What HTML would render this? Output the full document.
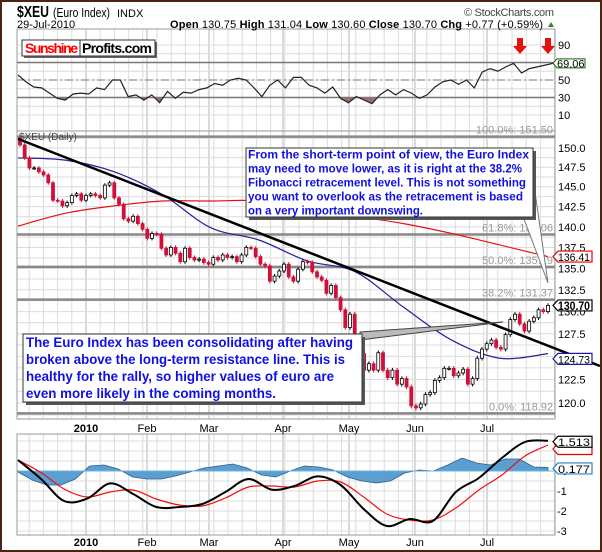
<!DOCTYPE html>
<html><head><meta charset="utf-8"><style>
html,body{margin:0;padding:0;background:#fff}
svg{display:block;font-family:"Liberation Sans",sans-serif}
</style></head><body>
<svg id="chart" width="602" height="552" viewBox="0 0 602 552" xmlns="http://www.w3.org/2000/svg">
<rect x="0" y="0" width="602" height="552" fill="#fff" stroke="#4a2410" stroke-width="4"/>
<g id="grid"></g>
<g id="rsi"></g>
<g id="main"></g>
<g id="macd"></g>
<g>
<text x="17" y="17" font-size="16" font-weight="bold" textLength="32" lengthAdjust="spacingAndGlyphs">$XEU</text>
<text x="53" y="17" font-size="12.5" textLength="57" lengthAdjust="spacingAndGlyphs">(Euro Index)</text>
<text x="117" y="17" font-size="11">INDX</text>
<text x="17" y="28" font-size="11">29-Jul-2010</text>
<text x="464" y="16" font-size="11" fill="#444" textLength="90">© StockCharts.com</text>
<text x="170" y="28" font-size="11" textLength="373"><tspan font-weight="bold">Open</tspan> 130.75  <tspan font-weight="bold">High</tspan> 131.04  <tspan font-weight="bold">Low</tspan> 130.60  <tspan font-weight="bold">Close</tspan> 130.70  <tspan font-weight="bold">Chg</tspan> +0.77 (+0.59%)</text>
<polygon points="548,27 554,27 551,22" fill="#2a8a2a"/>
</g>
<g>
<rect x="24" y="42" width="133" height="16" fill="#666"/>
<rect x="22" y="40" width="133" height="16" fill="#fff" stroke="#333"/>
<line x1="80" y1="40" x2="80" y2="56" stroke="#333"/>
<text x="25" y="53" font-size="14" font-weight="bold" fill="#f00" textLength="53">Sunshine</text>
<text x="82" y="53" font-size="14" font-weight="bold" fill="#000" textLength="70">Profits.com</text>
</g>
<g>
<polygon points="517,38 523,38 523,46 527,46 520,54 513,46 517,46" fill="#e8100a"/>
<polygon points="545,38 551,38 551,46 555,46 548,54 541,46 545,46" fill="#e8100a"/>
</g>
</svg>
<script>
// ---------- DATA ----------
const closes=[150.4,148.7,147.4,147.4,146.9,146.5,145.5,143.3,143.2,142.6,143.0,143.9,144.1,143.3,143.9,144.1,143.9,143.6,145.2,145.5,143.6,142.8,141.0,140.7,141.3,140.4,139.7,138.6,139.2,139.1,137.4,136.6,137.5,136.8,135.8,137.4,136.3,136.0,136.1,135.7,135.5,136.3,136.0,136.6,136.3,136.4,135.8,136.6,137.5,137.4,136.4,135.5,135.3,133.5,134.1,134.7,135.5,134.0,133.5,134.9,135.8,135.7,134.6,134.0,133.6,132.1,133.0,131.6,130.2,128.2,129.7,127.0,125.3,123.5,124.2,123.5,125.4,123.5,122.7,123.5,122.0,122.6,121.7,119.7,119.5,119.9,120.9,121.1,122.4,122.7,123.7,123.7,122.9,123.2,123.6,122.0,122.6,124.8,125.8,126.4,126.8,126.0,125.8,127.4,129.1,129.7,128.6,127.8,128.9,129.3,130.2,130.0,130.7];
const firstOpen=151.3;
const ma50=[148.7,148.4,146.9,144.0,139.9,138.4,135.9,134.6,130.5,126.8,124.8,125.3];
const ma200=[140.1,141.7,142.6,143.2,143.2,143.2,142.0,141.3,140.4,139.2,137.8,136.4];
const priceTicks=[150.0,147.5,145.0,142.5,140.0,137.5,135.0,132.5,130.0,127.5,122.5,120.0];
const fibLevels=[151.50,139.06,135.19,131.37,118.92];
const fibLabels=["100.0%: 151.50","61.8%: 139.06","50.0%: 135.19","38.2%: 131.37","0.0%: 118.92"];
const rsiVals=[55.7,48,42,41,35,29,27,34,35,34,41,39,50,50,31,33,27,33,24,37,29,36,35,39,41,46,44,50,52,50,41,31,44,50,41,53,53,44,41,35,42,29,24,31,27,23,33,39,33,39,35,29,33,42,48,50,45,50,41,59,63,60,65,69,58,63,65,67,69.06];
const rsiTicks=[90,70,50,30,10];
const macdLine=[0.55,-0.4,-1.5,-1.38,-0.62,-1.15,-1.8,-1.8,-1.65,-1.05,-0.4,-0.93,-0.75,-0.27,-0.7,-1.9,-2.75,-2.4,-2.5,-1.05,-0.35,0.65,1.45,1.513];
const signalLine=[0.55,-0.08,-0.9,-1.3,-1.05,-0.95,-1.4,-1.7,-1.75,-1.35,-0.8,-0.75,-0.8,-0.5,-0.55,-1.3,-2.15,-2.45,-2.45,-1.85,-0.95,-0.2,0.75,1.3];
const histVals=[-0.05,-0.45,-0.7,-0.7,-0.4,0.25,0.3,0.1,-0.3,-0.4,-0.4,-0.25,-0.05,0.15,0.25,0.35,0.15,-0.2,-0.3,0,0.25,0.2,0.05,-0.3,-0.5,-0.6,-0.5,-0.1,0.05,0,0.3,0.65,0.4,0.3,0.6,0.6,0.2,0.177];
const macdTicks=[1,0,-1,-2,-3];
const months=["2010","Feb","Mar","Apr","May","Jun","Jul"];
const monthIdx=[0,1,2,3,4,5,6];

// ---------- SCALES ----------
const NS="http://www.w3.org/2000/svg";
const X0=17,X1=555;
const yP=p=>148+1143*(Math.log(150)-Math.log(p));
const yR=v=>80-(v-50)*0.875;
const yM=v=>471-20*v;
const xSeries=(i,n)=>18+i*(548-18)/(n-1);
const xCandle=i=>20+i*(548-20)/(closes.length-1);
const monthX=[86,147,209,283,349,415,487];
const xMonth=k=>monthX[k];
function mk(tag,attrs,parent){const e=document.createElementNS(NS,tag);for(const k in attrs)e.setAttribute(k,attrs[k]);parent.appendChild(e);return e;}
function smooth(pts){let d=`M${pts[0][0]},${pts[0][1]}`;for(let i=0;i<pts.length-1;i++){const p0=pts[Math.max(0,i-1)],p1=pts[i],p2=pts[i+1],p3=pts[Math.min(pts.length-1,i+2)];
d+=` C${p1[0]+(p2[0]-p0[0])/6},${p1[1]+(p2[1]-p0[1])/6} ${p2[0]-(p3[0]-p1[0])/6},${p2[1]-(p3[1]-p1[1])/6} ${p2[0]},${p2[1]}`;}return d;}
const grid=document.getElementById('grid'),rsi=document.getElementById('rsi'),main=document.getElementById('main'),macd=document.getElementById('macd');
const panels=[[29,131],[131,419],[434,535]];

for(const [t,b] of panels){
  for(let x=86-14.2*4;x<X1;x+=14.2){if(x>X0)mk('line',{x1:x,y1:t,x2:x,y2:b,stroke:'#dcdcdc','stroke-width':1},grid);}
}
panels.forEach(([t,b])=>monthIdx.forEach(k=>mk('line',{x1:xMonth(k),y1:t,x2:xMonth(k),y2:b,stroke:'#b4b4b4','stroke-width':1},grid)));
for(let v=10;v<=90;v+=10)mk('line',{x1:X0,y1:yR(v),x2:X1,y2:yR(v),stroke:'#dcdcdc'},grid);
for(let p=151.25;p>118;p-=1.25)mk('line',{x1:X0,y1:yP(p),x2:X1,y2:yP(p),stroke:'#dcdcdc'},grid);
for(let v=1.5;v>=-3;v-=0.5)mk('line',{x1:X0,y1:yM(v),x2:X1,y2:yM(v),stroke:'#dcdcdc'},grid);
panels.forEach(([t,b])=>mk('rect',{x:X0,y:t,width:X1-X0,height:b-t,fill:'none',stroke:'#999'},grid));

// ---------- RSI ----------
mk('line',{x1:X0,y1:yR(70),x2:X1,y2:yR(70),stroke:'#777','stroke-width':1.5},rsi);
mk('line',{x1:X0,y1:yR(30),x2:X1,y2:yR(30),stroke:'#777','stroke-width':1.5},rsi);
mk('line',{x1:X0,y1:yR(50),x2:X1,y2:yR(50),stroke:'#777','stroke-width':1,'stroke-dasharray':'8,3,2,3'},rsi);
const rN=rsiVals.length;
const rPts=rsiVals.map((v,i)=>[18+i*(553-18)/(rN-1),yR(v)]);
const cp=mk('clipPath',{id:'below30'},rsi);mk('rect',{x:0,y:yR(30),width:602,height:60},cp);
const shade=mk('polygon',{points:`${rPts[0][0]},${yR(30)} `+rPts.map(p=>p.join(',')).join(' ')+` ${rPts[rN-1][0]},${yR(30)}`,fill:'#9c6e6e','clip-path':'url(#below30)'},rsi);


const rl=mk('polyline',{points:rPts.map(p=>p.join(',')).join(' '),fill:'none',stroke:'#222','stroke-width':1.2},rsi);


rsiTicks.forEach(v=>{if(v===70)return;const t=mk('text',{x:558,y:yR(v)+4,'font-size':11},rsi);t.textContent=v;

});
const rTag=mk('polygon',{points:`553,${yR(69.06)} 557,${yR(69.06)-4.5} 585,${yR(69.06)-4.5} 585,${yR(69.06)+4.5} 557,${yR(69.06)+4.5}`,fill:'#fff',stroke:'#006600'},rsi);


const rTt=mk('text',{x:557,y:yR(69.06)+4,'font-size':11},rsi);rTt.textContent='69.06';

// ---------- MAIN ----------
fibLevels.forEach((p,i)=>{
  const l=mk('line',{x1:X0,y1:yP(p),x2:X1,y2:yP(p),stroke:'#888','stroke-width':2.5},main);
  
  
  const t=mk('text',{x:553,y:yP(p)-3,'font-size':11,fill:'#999','text-anchor':'end'},main);t.textContent=fibLabels[i];
  
  
});
priceTicks.forEach(p=>{const t=mk('text',{x:558,y:yP(p)+4,'font-size':11},main);t.textContent=p.toFixed(1);

});
const tl0=mk('text',{x:19,y:140,'font-size':10,fill:'#444'},main);tl0.textContent='$XEU (Daily)';
const maLine=(arr,col,name)=>{const e=mk('path',{d:smooth(arr.map((v,i)=>[xSeries(i,arr.length),yP(v)])),fill:'none',stroke:col,'stroke-width':1.2},main);

};
maLine(ma200,'#e81010','ma200-line');
maLine(ma50,'#22229a','ma50-line');
closes.forEach((c,i)=>{
  const o=i===0?firstOpen:closes[i-1];
  const x=xCandle(i);const hi=Math.max(o,c)+0.25,lo=Math.min(o,c)-0.25;
  const down=c<o;const col=down?'#d0103a':'#000';
  const w=mk('line',{x1:x,y1:yP(hi),x2:x,y2:yP(lo),stroke:col},main);
  
  
  const top=yP(Math.max(o,c)),h=Math.max(1,yP(Math.min(o,c))-top);
  const b=mk('rect',{x:x-1.5,y:top,width:3,height:h,fill:down?col:'#fff',stroke:col,'stroke-width':0.8},main);
  
  
});
const tr=mk('line',{x1:18,y1:yP(151.2),x2:600,y2:366,stroke:'#000','stroke-width':2.5},main);


const c1=mk('g',{},main);


mk('polygon',{points:'529,150 548,283 524,219',fill:'#fff',stroke:'#777'},c1);
mk('rect',{x:249,y:151,width:287,height:69,fill:'#555'},c1);
mk('rect',{x:246,y:148,width:287,height:69,fill:'#fff',stroke:'#333'},c1);
const t1=["From the short-term point of view, the Euro Index","may need to move lower, as it is right at the 38.2%","Fibonacci retracement level. This is not something","you want to overlook as the retracement is based","on a very important downswing."];
const t1e=[529,522,526,523,423];
t1.forEach((s,i)=>{const t=mk('text',{x:248,y:158.5+i*14,'font-size':11.5,'font-weight':'bold',fill:'#1010e0',textLength:t1e[i]-248,lengthAdjust:'spacingAndGlyphs'},c1);t.textContent=s;});
const c2=mk('g',{},main);


mk('polygon',{points:'360,332 503,322 360,340',fill:'#bbb',stroke:'#444','stroke-width':1},c2);
mk('rect',{x:26,y:337,width:339,height:68,fill:'#555'},c2);
mk('rect',{x:23,y:334,width:339,height:68,fill:'#fff',stroke:'#333'},c2);
const t2=["The Euro Index has been consolidating after having","broken above the long-term resistance line. This is","healthy for the rally, so higher values of euro are","even more likely in the coming months."];
const t2e=[353,345,334,276];
t2.forEach((s,i)=>{const t=mk('text',{x:26,y:347+i*17,'font-size':14,'font-weight':'bold',fill:'#1010e0',textLength:t2e[i]-26,lengthAdjust:'spacingAndGlyphs'},c2);t.textContent=s;});
function tag(parent,y,txt,col,bold,name){
  const g=mk('g',{},parent);
  
  
  mk('polygon',{points:`553,${y} 558,${y-5.5} 592,${y-5.5} 592,${y+5.5} 558,${y+5.5}`,fill:'#fff',stroke:col,'stroke-width':1.2},g);
  const t=mk('text',{x:558,y:y+4.5,'font-size':bold?11.5:11,'font-weight':bold?'bold':'normal',textLength:txt?32:0,lengthAdjust:'spacingAndGlyphs'},g);t.textContent=txt;}
tag(main,yP(136.41),'136.41','#e00000',false,'ma200-value-tag');
tag(main,yP(124.73),'124.73','#1a1a9a',false,'ma50-value-tag');
tag(main,yP(130.70),'130.70','#000',true,'price-value-tag');

// ---------- MACD ----------
const hN=histVals.length;
const hPts=histVals.map((v,i)=>`${xSeries(i,hN)},${yM(v)}`);
const hp=mk('polygon',{points:`18,${yM(0)} `+hPts.join(' ')+` 548,${yM(0)}`,fill:'#5a9fd0',stroke:'#2a6090','stroke-width':0.8},macd);


mk('line',{x1:X0,y1:yM(0),x2:X1,y2:yM(0),stroke:'#6ab0e0'},macd);
const sl=mk('path',{d:smooth(signalLine.map((v,i)=>[xSeries(i,signalLine.length),yM(v)])),fill:'none',stroke:'#f01010','stroke-width':1.2},macd);


const ml=mk('path',{d:smooth(macdLine.map((v,i)=>[xSeries(i,macdLine.length),yM(v)])),fill:'none',stroke:'#000','stroke-width':2},macd);


macdTicks.forEach(v=>{const t=mk('text',{x:v<0?557:562,y:yM(v)+4,'font-size':11},macd);t.textContent=v;

});
tag(macd,yM(1.3)+4,'','#e00000',false,'signal-value-tag');
tag(macd,yM(1.513)+1,'1.513','#000',false,'macd-value-tag');
tag(macd,yM(0.177)+1,'0.177','#2a80c0',false,'histogram-value-tag');

[432,546].forEach(yy=>monthIdx.forEach(k=>{
  const t=mk('text',{x:xMonth(k),y:yy,'font-size':11,'text-anchor':'middle','font-weight':k===0?'bold':'normal'},macd);
  t.textContent=months[k];
  
  
}));
</script>
</body></html>
